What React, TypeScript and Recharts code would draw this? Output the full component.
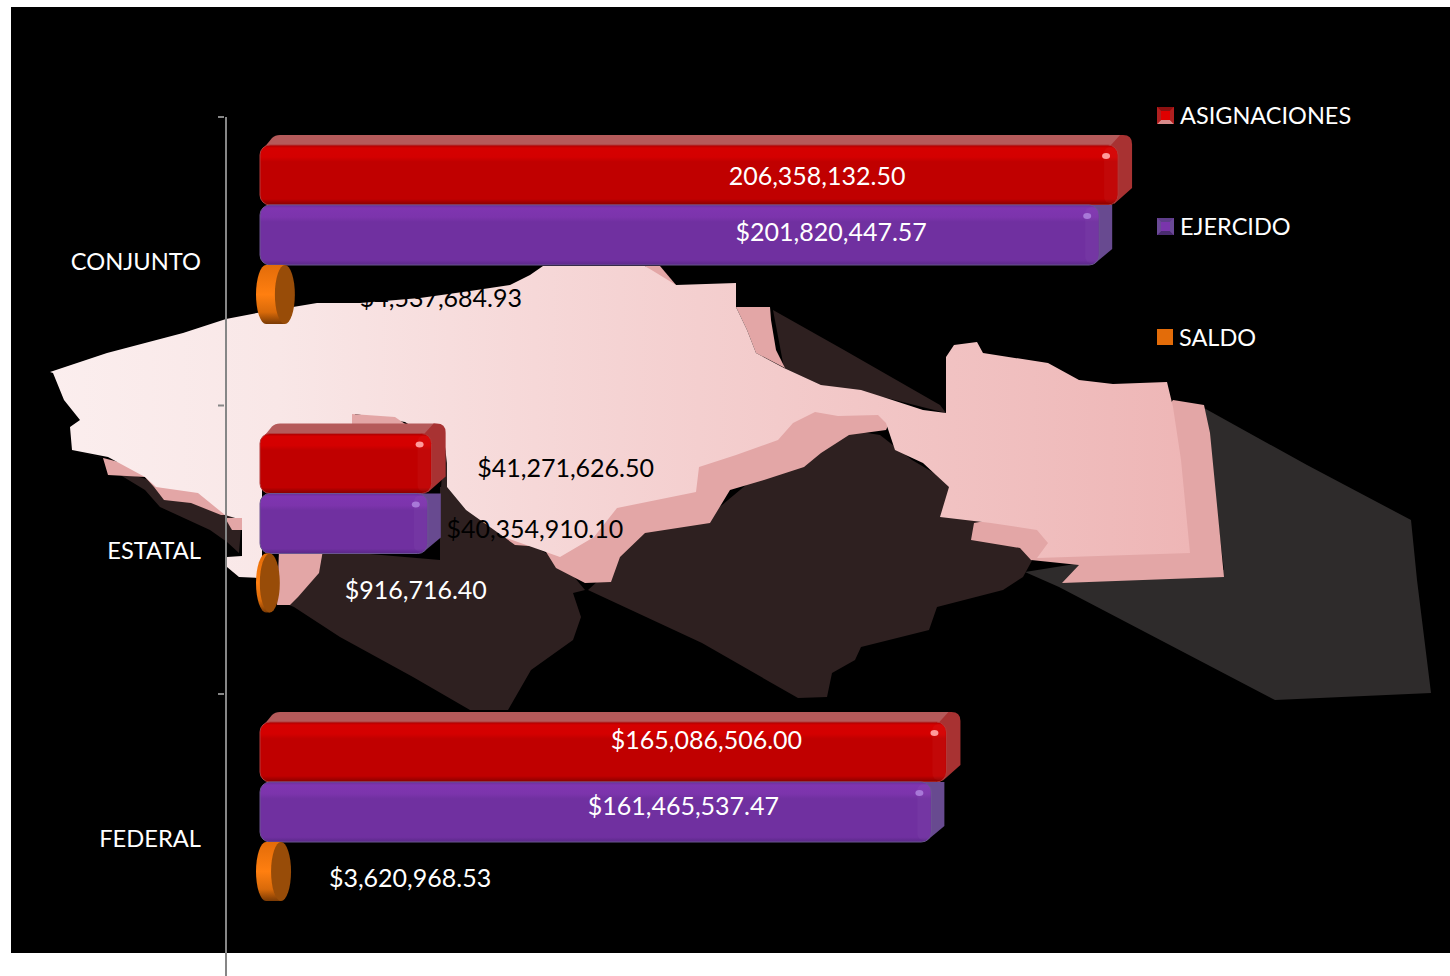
import React from 'react';
import { BarChart, Bar, XAxis, YAxis, Legend, LabelList } from 'recharts';

const categories = ['CONJUNTO', 'ESTATAL', 'FEDERAL'];
const asignaciones = [206358132.5, 41271626.5, 165086506.0];
const ejercido = [201820447.57, 40354910.1, 161465537.47];
const saldo = [4537684.93, 916716.4, 3620968.53];

const asignacionesLabels = ['206,358,132.50', '$41,271,626.50', '$165,086,506.00'];
const ejercidoLabels = ['$201,820,447.57', '$40,354,910.10', '$161,465,537.47'];
const saldoLabels = ['$4,537,684.93', '$916,716.40', '$3,620,968.53'];

const chartData = categories.map((name, i) => ({
  name,
  asignaciones: asignaciones[i],
  ejercido: ejercido[i],
  saldo: saldo[i],
}));

const FONT = 'Lato, Carlito, sans-serif';
const BAR_SHIFT = -26; // the 3D bars sit above the band centre

// label placement: offset from the bar end, and from the bar's middle
const asignacionesPos = [[-301, 0], [134, 3], [-240, -13]];
const ejercidoPos = [[-268, -4], [107, 4], [-248, -7]];
const saldoPos = [[162, 2], [152, 5], [135, 5]];
const asignacionesInk = ['#fff', '#000', '#fff'];
const ejercidoInk = ['#fff', '#000', '#fff'];
const saldoInk = ['#000', '#fff', '#fff'];

// ─── Background map ───────────────────────────────────────────────────────────
const mapTop =
  '50,372 107,353 183,333 226,319 262,312 293,307 317,303 360,303 420,298 470,291 510,285 530,275 543,266 645,266 676,285 736,283 736,307 747,330 756,353 784,368 821,385 861,390 883,397 923,410 946,413 946,357 954,345 977,342 983,353 1048,363 1079,380 1113,384 1167,382 1173,407 1181,460 1190,553 1037,558 1048,543 1037,530 991,523 940,517 949,487 923,463 895,450 886,423 878,415 838,416 815,412 793,423 778,440 736,455 699,467 696,492 617,508 594,537 560,557 504,537 466,510 447,487 447,463 445,447 405,422 355,414 352,440 262,440 262,578 239,577 227,567 227,557 242,556 242,520 225,515 198,493 156,487 145,477 108,457 72,450 70,427 80,420 64,400 53,373';
const mapSide = [
  '72,450 103,458 108,475 145,477 154,487 164,500 191,503 221,515 225,515 225,500 150,470',
  '504,537 515,545 543,547 556,568 585,583 611,582 620,557 645,533 710,523 730,490 764,480 804,467 821,453 849,435 886,430 892,417 850,400 700,440 560,530',
  '1173,400 1204,405 1210,433 1224,577 1062,583 1079,565 1031,560 1020,548 971,540 974,523 1100,500',
  '736,307 770,307 771,320 776,350 785,368 756,353 747,330',
  '645,266 660,266 676,285 671,288',
  '279,550 323,550 319,573 298,597 290,605 277,605',
  '352,414 395,417 408,426 352,426',
  '225,518 242,518 242,530 232,530',
];
const mapShadowBrown = [
  '112,470 145,490 160,507 210,530 227,542 239,553 242,515 150,480',
  '294,607 340,637 413,677 470,710 508,710 531,670 573,640 581,617 573,593 585,590 560,560 520,540 466,510 447,487 440,487 440,560 323,550 277,600',
  '588,590 702,643 798,698 827,697 832,673 855,660 861,647 929,630 937,607 1003,590 1023,577 1035,555 1000,530 946,480 912,460 880,435 849,430 764,470 710,515 640,525 610,570',
  '773,310 844,350 940,405 946,413 883,397 821,385 784,368',
  '444,452 457,453 457,462 447,463 447,487 451,500 440,500',
];
const mapShadowGray = '1204,408 1307,465 1411,520 1417,580 1431,693 1275,700 1059,587 1025,572 1100,560 1224,570';

const MapBackdrop = () => (
  <svg width={1450} height={976} style={{ position: 'absolute', left: 0, top: 0 }}>
    <defs>
      <linearGradient id="mapFace" gradientUnits="userSpaceOnUse" x1="50" y1="0" x2="1190" y2="0">
        <stop offset="0" stopColor="#fbeeee" />
        <stop offset="0.2" stopColor="#f9e7e7" />
        <stop offset="0.5" stopColor="#f5d3d3" />
        <stop offset="1" stopColor="#eeb6b6" />
      </linearGradient>
    </defs>
    <polygon points={mapShadowGray} fill="#2e2b2b" />
    {mapShadowBrown.map((p) => (
      <polygon key={p} points={p} fill="#2e2020" />
    ))}
    {mapSide.slice(0, 6).map((p) => (
      <polygon key={p} points={p} fill="#e3a6a6" />
    ))}
    <polygon points={mapTop} fill="url(#mapFace)" />
    {mapSide.slice(6).map((p) => (
      <polygon key={p} points={p} fill="#e3a6a6" />
    ))}
  </svg>
);

// ─── Bar shapes ───────────────────────────────────────────────────────────────
interface BlockProps {
  x?: number;
  y?: number;
  width?: number;
  height?: number;
  front: string;
  side: string;
  top?: string;
  edge: string;
  shine: string;
}

const Block: React.FC<BlockProps> = ({ x = 0, y = 0, width = 0, height = 0, front, side, top, edge, shine }) => {
  const fy = y + BAR_SHIFT;
  const r = x + width;
  const b = fy + height;
  return (
    <g>
      {top && (
        <path
          d={`M${x + 3},${fy + 4} L${x + 12},${fy - 7} Q${x + 15},${fy - 10} ${x + 20},${fy - 10} H${r + 4} L${r - 6},${fy + 8} H${x + 3} Z`}
          fill={top}
        />
      )}
      {top ? (
        <path
          d={`M${r - 8},${fy + 1} L${r + 2},${fy - 10} H${r + 5} Q${r + 14},${fy - 10} ${r + 14},${fy - 1} V${b - 17} L${r - 4},${b - 1} Z`}
          fill={side}
        />
      ) : (
        <path d={`M${r - 8},${fy} H${r + 13} V${b - 16} L${r - 5},${b - 1} Z`} fill={side} />
      )}
      <rect x={x} y={fy} width={width} height={height} rx={10} ry={10} fill={front} stroke={edge} strokeWidth={1} />
      <rect x={r - 14} y={fy + 2} width={13} height={height - 4} rx={6} fill="#fff" fillOpacity={0.03} />
      <ellipse cx={r - 12} cy={fy + 11} rx={4} ry={3} fill={shine} />
    </g>
  );
};

const Disc: React.FC<{ x?: number; y?: number; width?: number; height?: number }> = ({ x = 0, y = 0, width = 0, height = 0 }) => {
  const fy = y + BAR_SHIFT;
  const h = height - 1;
  const cy = fy + h / 2;
  const leftC = x + 6;
  const rightC = x + width + 6;
  return (
    <g>
      <path
        d={`M${leftC},${fy} H${rightC} V${fy + h} H${leftC} A10,${h / 2} 0 0 1 ${leftC},${fy} Z`}
        fill="url(#discRim)"
      />
      <ellipse cx={rightC} cy={cy} rx={10} ry={h / 2} fill="#984c08" />
    </g>
  );
};

// ─── Value labels ─────────────────────────────────────────────────────────────
const makeLabel = (texts: string[], pos: number[][], ink: string[]) => (props: any) => {
  const { x, y, width, height, index } = props;
  const cx = x + width + pos[index][0];
  const cy = y + height / 2 + BAR_SHIFT + pos[index][1];
  return (
    <text
      x={cx}
      y={cy}
      textAnchor="middle"
      dominantBaseline="central"
      fill={ink[index]}
      style={{ fontFamily: FONT, fontSize: 25 }}
    >
      {texts[index]}
    </text>
  );
};

// ─── Axis tick: mark on the band edge, label on the band centre ───────────────
const CategoryTick = (props: any) => {
  const { x, y, payload } = props;
  return (
    <g>
      <line x1={218} x2={x} y1={y - 144.25} y2={y - 144.25} stroke="#868686" strokeWidth={2} />
      <text
        x={201}
        y={y}
        textAnchor="end"
        dominantBaseline="central"
        fill="#fff"
        style={{ fontFamily: FONT, fontSize: 23.7 }}
      >
        {payload.value}
      </text>
    </g>
  );
};

// ─── Legend ───────────────────────────────────────────────────────────────────
const LegendIcon: React.FC<{ index: number }> = ({ index }) => {
  if (index === 2) {
    return <div style={{ width: 16, height: 16, background: '#e36c09' }} />;
  }
  const mid = index === 0 ? '#e00000' : '#7a35ac';
  const upper = index === 0 ? '#8c1010' : '#5e3d8a';
  const lower = index === 0 ? '#d88a8a' : '#4a2c70';
  const sideC = index === 0 ? '#b02020' : '#6a4a96';
  return (
    <svg width={17} height={17} style={{ display: 'block' }}>
      <rect width={17} height={17} fill={mid} />
      <polygon points="0,0 17,0 13,4 4,4" fill={upper} />
      <polygon points="0,17 17,17 13,13 4,13" fill={lower} />
      <polygon points="0,0 4,4 4,13 0,17" fill={sideC} />
      <polygon points="17,0 13,4 13,13 17,17" fill={sideC} />
    </svg>
  );
};

const LegendBox = (props: any) => (
  <div style={{ fontFamily: FONT, fontSize: 23.5, color: '#fff' }}>
    {(props.payload || []).map((entry: any, i: number) => (
      <div key={entry.value} style={{ height: 111, display: 'flex', alignItems: 'center' }}>
        <LegendIcon index={i} />
        <span style={{ marginLeft: 6 }}>{entry.value}</span>
      </div>
    ))}
  </div>
);

export default function App() {
  return (
    <div style={{ position: 'absolute', left: 0, top: 0, width: 1450, height: 976, overflow: 'hidden', background: '#fff' }}>
      <div style={{ position: 'absolute', left: 11, top: 7, width: 1439, height: 946, background: '#000' }} />
      <MapBackdrop />
      <div style={{ position: 'absolute', left: 0, top: 0 }}>
        <BarChart
          width={1450}
          height={990}
          data={chartData}
          layout="vertical"
          barSize={60}
          barGap={0}
          margin={{ top: 117, right: 316.8, bottom: 7.5, left: 0 }}
        >
          <defs>
            <linearGradient id="redFront" x1="0" y1="0" x2="0" y2="1">
              <stop offset="0" stopColor="#a80000" />
              <stop offset="0.05" stopColor="#d60000" />
              <stop offset="0.2" stopColor="#d40000" />
              <stop offset="0.28" stopColor="#c00000" />
              <stop offset="0.9" stopColor="#c00000" />
              <stop offset="1" stopColor="#850000" />
            </linearGradient>
            <linearGradient id="purpleFront" x1="0" y1="0" x2="0" y2="1">
              <stop offset="0" stopColor="#6a2e98" />
              <stop offset="0.05" stopColor="#7f35b0" />
              <stop offset="0.2" stopColor="#7c34ac" />
              <stop offset="0.28" stopColor="#7030a0" />
              <stop offset="0.92" stopColor="#7030a0" />
              <stop offset="1" stopColor="#5a2888" />
            </linearGradient>
            <linearGradient id="discRim" x1="0" y1="0" x2="0" y2="1">
              <stop offset="0" stopColor="#e36c09" />
              <stop offset="0.5" stopColor="#ff7f10" />
              <stop offset="0.8" stopColor="#d96a0a" />
              <stop offset="1" stopColor="#7a3a04" />
            </linearGradient>
          </defs>
          <XAxis type="number" hide domain={[-8177000, 210000000]} />
          <YAxis
            type="category"
            dataKey="name"
            width={226}
            tickSize={0}
            tickLine={false}
            axisLine={{ stroke: '#868686', strokeWidth: 2 }}
            tick={<CategoryTick />}
            interval={0}
          />
          <Legend
            layout="vertical"
            align="center"
            verticalAlign="middle"
            content={<LegendBox />}
            wrapperStyle={{ left: 1157, top: 59.5, width: 280, height: 333 }}
          />
          <Bar
            dataKey="asignaciones"
            name="ASIGNACIONES"
            fill="#c00000"
            isAnimationActive={false}
            shape={(p: any) => (
              <Block {...p} front="url(#redFront)" side="#a83232" top="#b55a5a" edge="#b23a3a" shine="#ff9a9a" />
            )}
          >
            <LabelList dataKey="asignaciones" content={makeLabel(asignacionesLabels, asignacionesPos, asignacionesInk)} />
          </Bar>
          <Bar
            dataKey="ejercido"
            name="EJERCIDO"
            fill="#7030a0"
            isAnimationActive={false}
            shape={(p: any) => (
              <Block {...p} front="url(#purpleFront)" side="#684a90" edge="#6a5590" shine="#a878d8" />
            )}
          >
            <LabelList dataKey="ejercido" content={makeLabel(ejercidoLabels, ejercidoPos, ejercidoInk)} />
          </Bar>
          <Bar
            dataKey="saldo"
            name="SALDO"
            fill="#e36c09"
            isAnimationActive={false}
            shape={(p: any) => <Disc {...p} />}
          >
            <LabelList dataKey="saldo" content={makeLabel(saldoLabels, saldoPos, saldoInk)} />
          </Bar>
        </BarChart>
      </div>
    </div>
  );
}
